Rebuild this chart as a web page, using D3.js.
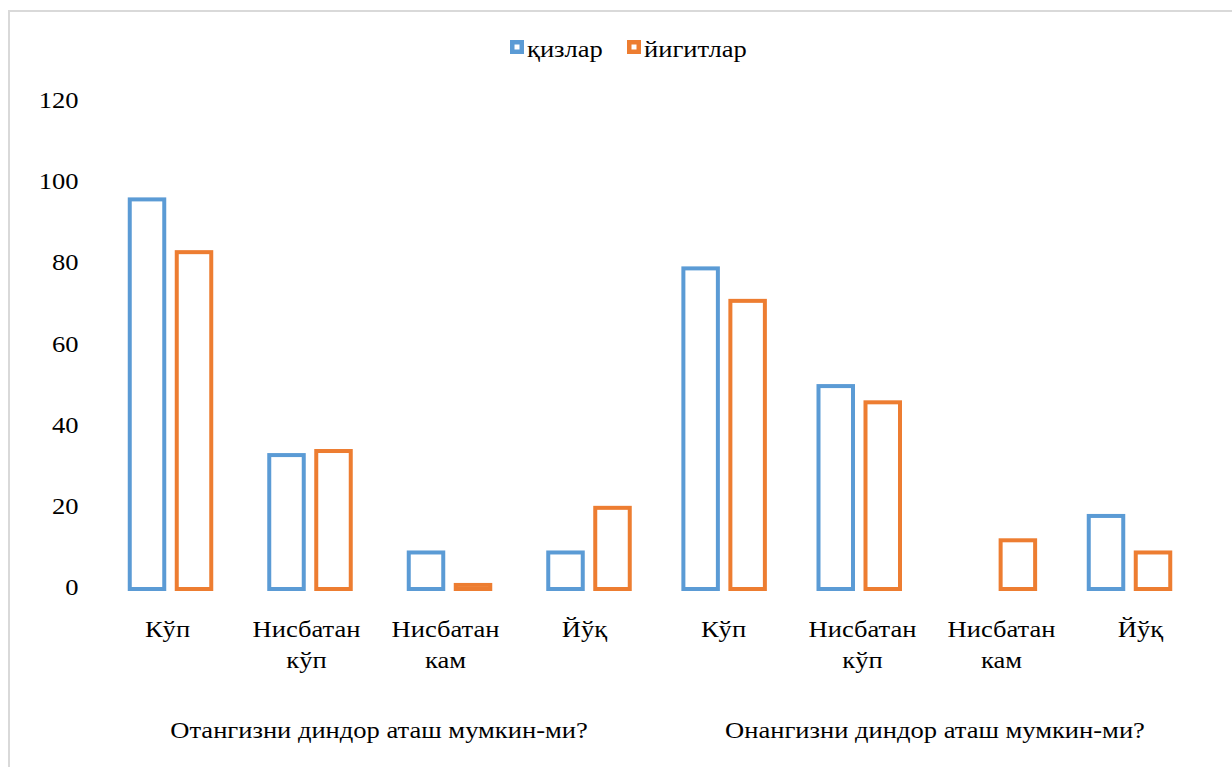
<!DOCTYPE html>
<html>
<head>
<meta charset="utf-8">
<script src="https://cdn.jsdelivr.net/npm/d3@7"></script>
<style>
  html, body { margin: 0; padding: 0; background: #fff; }
  svg { display: block; }
</style>
</head>
<body>
<svg id="chart" width="1232" height="767"></svg>
<script>
const categories = [
  ["Кўп"], ["Нисбатан", "кўп"], ["Нисбатан", "кам"], ["Йўқ"],
  ["Кўп"], ["Нисбатан", "кўп"], ["Нисбатан", "кам"], ["Йўқ"]
];
const groupLabels = ["Отангизни диндор аташ мумкин-ми?", "Онангизни диндор аташ мумкин-ми?"];
const seriesNames = ["қизлар", "йигитлар"];
const girls = [96, 33, 9, 9, 79, 50, 0, 18];
const boys = [83, 34, 1, 20, 71, 46, 12, 9];
const yTicks = [0, 20, 40, 60, 80, 100, 120];
const colors = ["#5b9bd5", "#ed7d31"];

const FONT = "Times New Roman";
const FS = 22.5;
const SX = 1.18;

const svg = d3.select("#chart");

// draw a horizontally stretched text (reference glyphs are wider than tall)
function stext(parent, x, y, lines, anchor, lineH) {
  const g = parent.append("g").attr("transform", `translate(${x},${y}) scale(${SX},1)`);
  const t = g.append("text")
    .attr("font-family", FONT)
    .style("font-family", "'Times New Roman', Tinos, 'Liberation Serif', serif")
    .attr("font-size", FS)
    .attr("fill", "#000")
    .attr("text-anchor", anchor);
  lines.forEach((line, li) => {
    t.append("tspan").attr("x", 0).attr("y", li * (lineH || 0)).text(line);
  });
  return t;
}

// outer border of chart area
svg.append("rect")
  .attr("x", 9).attr("y", 11)
  .attr("width", 1300).attr("height", 900)
  .attr("fill", "none").attr("stroke", "#d9d9d9").attr("stroke-width", 2);

const idx = d3.range(categories.length);
// category centres for the bars (second group is slightly tighter in the reference)
const xc = d3.scaleLinear().domain([0, 3, 7]).range([170.5, 589, 1129.5]);
// category label centres (evenly spaced)
const xl = d3.scalePoint().domain(idx).range([167.5, 1140.5]);
const y = d3.scaleLinear().domain([0, 120]).range([589, 102]);
const barW = 34.5;
const barOff = [-23.5, 23.5];

// y axis labels
const gy = svg.append("g");
yTicks.forEach(v => stext(gy, 78.5, y(v) + 6, [String(v)], "end"));

// bars
const series = [girls, boys];
series.forEach((vals, si) => {
  svg.append("g").selectAll("rect")
    .data(idx.filter(i => vals[i] > 0))
    .join("rect")
    .attr("x", i => xc(i) + barOff[si] - barW / 2)
    .attr("y", i => y(vals[i]))
    .attr("width", barW)
    .attr("height", i => y(0) - y(vals[i]))
    .attr("fill", "#fff")
    .attr("stroke", colors[si])
    .attr("stroke-width", 4);
});

// category labels
const cg = svg.append("g");
idx.forEach(i => {
  stext(cg, xl(i), 637, categories[i], "middle", 31);
});

// group labels
groupLabels.forEach((g, gi) => {
  const c0 = xl(gi * 4);
  const c1 = xl(gi * 4 + 3);
  stext(svg, (c0 + c1) / 2 + 3, 738, [g], "middle");
});

// legend
const legend = svg.append("g");
const legendX = [510, 627];
seriesNames.forEach((name, si) => {
  const lx = legendX[si];
  legend.append("rect")
    .attr("x", lx + 2.25).attr("y", 42.25)
    .attr("width", 9.5).attr("height", 9.5)
    .attr("fill", "#fff").attr("stroke", colors[si]).attr("stroke-width", 4.5);
  stext(legend, lx + 17, 57, [name], "start");
});
</script>
</body>
</html>
